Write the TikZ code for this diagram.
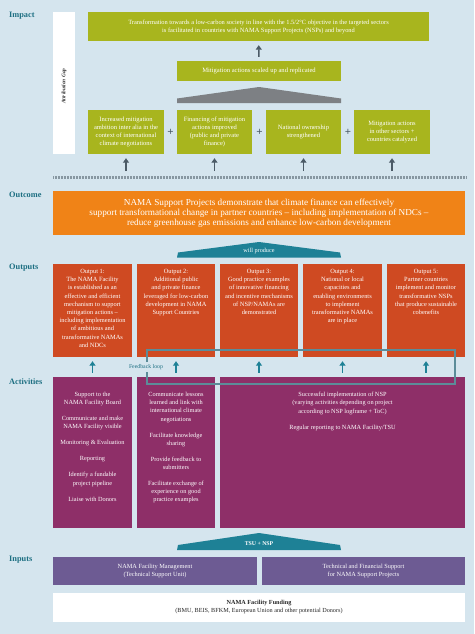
\documentclass[tikz,border=0pt]{standalone}
\usepackage{fontspec}
\setmainfont{Liberation Serif}
\usetikzlibrary{arrows.meta}
\definecolor{bg}{HTML}{D5E5EE}
\definecolor{cgreen}{HTML}{A8B51E}
\definecolor{corange}{HTML}{F08317}
\definecolor{cred}{HTML}{CF4A22}
\definecolor{cmag}{HTML}{8E2F68}
\definecolor{cpurp}{HTML}{6D5B93}
\definecolor{cteal}{HTML}{1E8196}
\definecolor{clabel}{HTML}{1D6F82}
\definecolor{cgray}{HTML}{7D8084}
\definecolor{cdark}{HTML}{4B5A66}
\definecolor{cfb}{HTML}{5C8C99}
\definecolor{ctick}{HTML}{8797A1}
\begin{document}
\begin{tikzpicture}[x=1pt,y=-1pt,
  box/.style={rectangle, inner sep=0pt, draw=none, align=center, text=white},
  gbox/.style={box, fill=cgreen, font=\fontsize{6.5}{7.9}\selectfont},
  obox/.style={box, fill=cred},
  abox/.style={box, fill=cmag},
  ibox/.style={box, fill=cpurp, font=\fontsize{6.3}{8}\selectfont},
  otext/.style={inner sep=0pt, align=center, text=white, anchor=north, font=\fontsize{6.4}{8.2}\selectfont},
  atext/.style={otext, font=\fontsize{6.3}{8.2}\selectfont},
  sect/.style={anchor=west, inner sep=0pt, text=clabel, font=\fontsize{8.3}{10}\selectfont\bfseries},
  garrow/.style={draw=cdark, line width=1.5pt, -{Triangle[width=6pt,length=4.5pt]}, shorten <=4pt, shorten >=4pt},
  tarrow/.style={draw=cteal, line width=1.5pt, -{Triangle[width=6pt,length=4.5pt]}, shorten <=4pt, shorten >=4pt},
  plus/.style={inner sep=0pt, text=cdark, font=\fontsize{11}{11}\selectfont\bfseries},
  roof/.style={fill=cteal, draw=none},
]
% background
\fill[bg] (0,0) rectangle (474,634);
\useasboundingbox (0,0) rectangle (474,634);

% section labels
\node[sect] (lImpact) at (9,16) {Impact};
\node[sect] (lOutcome) at (9,195) {Outcome};
\node[sect] (lOutputs) at (9,268) {Outputs};
\node[sect] (lActivities) at (9,382) {Activities};
\node[sect] (lInputs) at (9,560) {Inputs};

% attribution gap strip
\node[rectangle, fill=white, minimum width=22pt, minimum height=142pt, inner sep=0pt] (gap) at (64,83) {};
\node[rotate=90, inner sep=0pt, text=black!80, font=\fontsize{5.4}{6}\selectfont\itshape\bfseries] (gaptext) at (64,86) {Attribution Gap};

% impact
\node[gbox, minimum width=341pt, minimum height=29pt, font=\fontsize{6.4}{8}\selectfont] (top) at (258.5,26.5)
  {Transformation towards a low-carbon society in line with the 1.5/2°C objective in the targeted sectors\\
   is facilitated in countries with NAMA Support Projects (NSPs) and beyond};
\node[gbox, minimum width=164pt, minimum height=20pt, font=\fontsize{6.6}{7.7}\selectfont] (mit) at (259,71) {Mitigation actions scaled up and replicated};
\draw[garrow] (mit) -- (top);
\fill[cgray] (177,103) -- (177,98.5) -- (259,87) -- (341,98.5) -- (341,103) -- cycle;

\node[gbox, minimum width=76pt, minimum height=44pt] (g1) at (126,132)
  {Increased mitigation\\ ambition inter alia in the\\ context of international\\ climate negotiations};
\node[gbox, minimum width=75pt, minimum height=44pt] (g2) at (214.5,132)
  {Financing of mitigation\\ actions improved\\ (public and private\\ finance)};
\node[gbox, minimum width=75pt, minimum height=44pt] (g3) at (303.5,132)
  {National ownership\\ strengthened};
\node[gbox, minimum width=76pt, minimum height=44pt] (g4) at (392,132)
  {Mitigation actions\\ in other sectors +\\ countries catalyzed};
\node[plus] (p1) at (170.5,132) {+};
\node[plus] (p2) at (259.5,132) {+};
\node[plus] (p3) at (348,132) {+};

% dashed attribution line
\coordinate (dl1) at (53,177);
\coordinate (dl2) at (466,177);
\draw[ctick, line width=3pt, dash pattern=on 0.8pt off 0.7pt] (dl1) -- (dl2);
\coordinate (ag1) at (126,175);
\coordinate (ag2) at (214.5,175);
\coordinate (ag3) at (303.5,175);
\coordinate (ag4) at (392,175);
\draw[garrow] (ag1) -- (g1);
\draw[garrow] (ag2) -- (g2);
\draw[garrow] (ag3) -- (g3);
\draw[garrow] (ag4) -- (g4);

% outcome
\node[box, fill=corange, minimum width=412pt, minimum height=44pt, font=\fontsize{9.2}{10}\selectfont] (outc) at (259,213)
  {NAMA Support Projects demonstrate that climate finance can effectively\\
   support transformational change in partner countries -- including implementation of NDCs --\\
   reduce greenhouse gas emissions and enhance low-carbon development};

% will produce
\fill[roof] (177,257.5) -- (178,252.5) -- (259,242) -- (340,252.5) -- (341,257.5) -- cycle;
\node[inner sep=0pt, text=white, font=\fontsize{6.2}{6}\selectfont] (willp) at (259,251.5) {will produce};

% outputs
\node[obox, minimum width=79pt, minimum height=93pt] (o1) at (92.5,310.5) {};
\node[obox, minimum width=78pt, minimum height=93pt] (o2) at (176,310.5) {};
\node[obox, minimum width=78pt, minimum height=93pt] (o3) at (259,310.5) {};
\node[obox, minimum width=79pt, minimum height=93pt] (o4) at (342.5,310.5) {};
\node[obox, minimum width=78pt, minimum height=93pt] (o5) at (426,310.5) {};
\node[otext] (o1t) at (92.5,269) {Output 1:\\ The NAMA Facility\\ is established as an\\ effective and efficient\\ mechanism to support\\ mitigation actions --\\ including implementation\\ of ambitious and\\ transformative NAMAs\\ and NDCs};
\node[otext] (o2t) at (176,269) {Output 2:\\ Additional public\\ and private finance\\ leveraged for low-carbon\\ development in NAMA\\ Support Countries};
\node[otext] (o3t) at (259,269) {Output 3:\\ Good practice examples\\ of innovative financing\\ and incentive mechanisms\\ of NSP/NAMAs are\\ demonstrated};
\node[otext] (o4t) at (342.5,269) {Output 4:\\ National or local\\ capacities and\\ enabling environments\\ to implement\\ transformative NAMAs\\ are in place};
\node[otext] (o5t) at (426,269) {Output 5:\\ Partner countries\\ implement and monitor\\ transformative NSPs\\ that produce sustainable\\ cobenefits};

% activities
\node[abox, minimum width=79pt, minimum height=151pt] (a1) at (92.5,452.5) {};
\node[abox, minimum width=78pt, minimum height=151pt] (a2) at (176,452.5) {};
\node[abox, minimum width=245pt, minimum height=151pt] (a3) at (342.5,452.5) {};
\node[atext] (a1t) at (92.5,392) {Support to the\\ NAMA Facility Board\\[7.8pt] Communicate and make\\ NAMA Facility visible\\[7.8pt] Monitoring \& Evaluation\\[7.8pt] Reporting\\[7.8pt] Identify a fundable\\ project pipeline\\[7.8pt] Liaise with Donors};
\node[atext] (a2t) at (176,392) {Communicate lessons\\ learned and link with\\ international climate\\ negotiations\\[7.8pt] Facilitate knowledge\\ sharing\\[7.8pt] Provide feedback to\\ submitters\\[7.8pt] Facilitate exchange of\\ experience on good\\ practice examples};
\node[atext] (a3t) at (342.5,392) {Successful implementation of NSP\\ (varying activities depending on project\\ according to NSP logframe + ToC)\\[7.8pt] Regular reporting to NAMA Facility/TSU};

% feedback loop
\coordinate (fbA) at (147,350);
\coordinate (fbB) at (455,384);
\draw[white!85!bg, line width=2.4pt] (fbA) rectangle (fbB);
\draw[cfb, line width=1.1pt] (fbA) rectangle (fbB);
\node[fill=bg, inner xsep=1pt, inner ysep=2pt, text=clabel, font=\fontsize{5.8}{6}\selectfont] (fbl) at (146,367) {Feedback loop};

% arrows activities -> outputs
\draw[tarrow] (a1) -- (o1);
\draw[tarrow] (a2) -- (o2);
\draw[tarrow] (o3.south |- a3.north) -- (o3);
\draw[tarrow] (o4.south |- a3.north) -- (o4);
\draw[tarrow] (o5.south |- a3.north) -- (o5);

% TSU + NSP
\fill[roof] (177,550) -- (178,545) -- (259,533) -- (340,545) -- (341,550) -- cycle;
\node[inner sep=0pt, text=white, font=\fontsize{5.8}{6}\selectfont\bfseries] (tsu) at (259,543.5) {TSU + NSP};

% inputs
\node[ibox, minimum width=204pt, minimum height=28pt] (in1) at (155,571) {NAMA Facility Management\\ (Technical Support Unit)};
\node[ibox, minimum width=203pt, minimum height=28pt] (in2) at (363.5,571) {Technical and Financial Support\\ for NAMA Support Projects};
\node[box, fill=white, text=black!85, minimum width=412pt, minimum height=29pt, font=\fontsize{6.2}{8}\selectfont] (fund) at (259,607.5)
  {\textbf{NAMA Facility Funding}\\ (BMU, BEIS, BFKM, European Union and other potential Donors)};
\end{tikzpicture}
\end{document}
